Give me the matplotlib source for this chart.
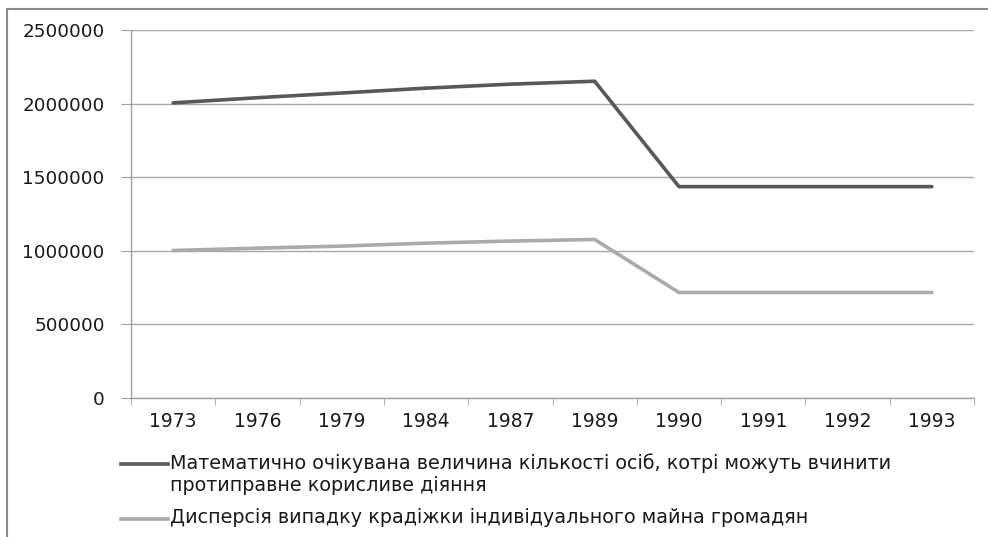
import numpy as np
import matplotlib
matplotlib.use("Agg")
import matplotlib.pyplot as plt
from matplotlib.lines import Line2D
from matplotlib.patches import Rectangle

years = ["1973", "1976", "1979", "1984", "1987", "1989", "1990", "1991", "1992", "1993"]
expected = [2005000, 2040000, 2072000, 2105000, 2132000, 2152000, 1436000, 1436000, 1436000, 1436000]
dispersion = [1002000, 1018000, 1032000, 1052000, 1066000, 1077000, 717000, 717000, 717000, 717000]
labels = [
    "Математично очікувана величина кількості осіб, котрі можуть вчинити\nпротиправне корисливе діяння",
    "Дисперсія випадку крадіжки індивідуального майна громадян",
]
colors = ["#585858", "#aaaaaa"]

plt.rcParams["font.family"] = ["DejaVu Sans"]

fig = plt.figure(figsize=(9.88, 5.37), dpi=100)
W, H = 988, 537
ax = fig.add_axes([131 / W, 1 - 398 / H, (974 - 131) / W, (398 - 30) / H])

x = np.arange(len(years))
ax.plot(x, expected, color=colors[0], lw=2.6, solid_capstyle="round", zorder=3)
ax.plot(x, dispersion, color=colors[1], lw=2.6, solid_capstyle="round", zorder=3)

ax.set_xlim(-0.5, len(years) - 0.5)
ax.set_ylim(0, 2500000)
ax.set_yticks(np.arange(0, 2500001, 500000))
ax.set_yticklabels([str(v) for v in range(0, 2500001, 500000)])
ax.yaxis.grid(True, color="#a8a8a8", lw=1)
ax.set_axisbelow(True)

ax.set_xticks(x)
ax.set_xticklabels(years)
ax.set_xticks(np.arange(-0.5, len(years)), minor=True)
ax.tick_params(axis="x", which="major", length=0, pad=10, labelsize=13.5, colors="#1a1a1a")
ax.tick_params(axis="x", which="minor", length=5, color="#a0a0a0")
ax.tick_params(axis="y", length=7, color="#a0a0a0", pad=12, labelsize=13.2, labelcolor="#1a1a1a")

for s in ["top", "right"]:
    ax.spines[s].set_visible(False)
for s in ["left", "bottom"]:
    ax.spines[s].set_color("#a0a0a0")
    ax.spines[s].set_linewidth(1)

# outer chart frame (partially visible)
fig.patches.append(Rectangle((7 / W, -0.1), 1.2, 1 - 9 / H + 0.1, transform=fig.transFigure,
                             fill=False, edgecolor="#8a8a8a", lw=1.5))

# legend below the plot
leg_y = [464, 519]
for lab, col, yy in zip(labels, colors, leg_y):
    fy = 1 - yy / H
    fig.lines.append(Line2D([121 / W, 168 / W], [fy, fy], transform=fig.transFigure,
                            color=col, lw=2.6))
    fig.text(170 / W, fy + 11 / H, lab, fontsize=13.8, va="top", ha="left", color="#1a1a1a",
             transform=fig.transFigure, linespacing=1.2)

fig.savefig("out.png", dpi=100)
